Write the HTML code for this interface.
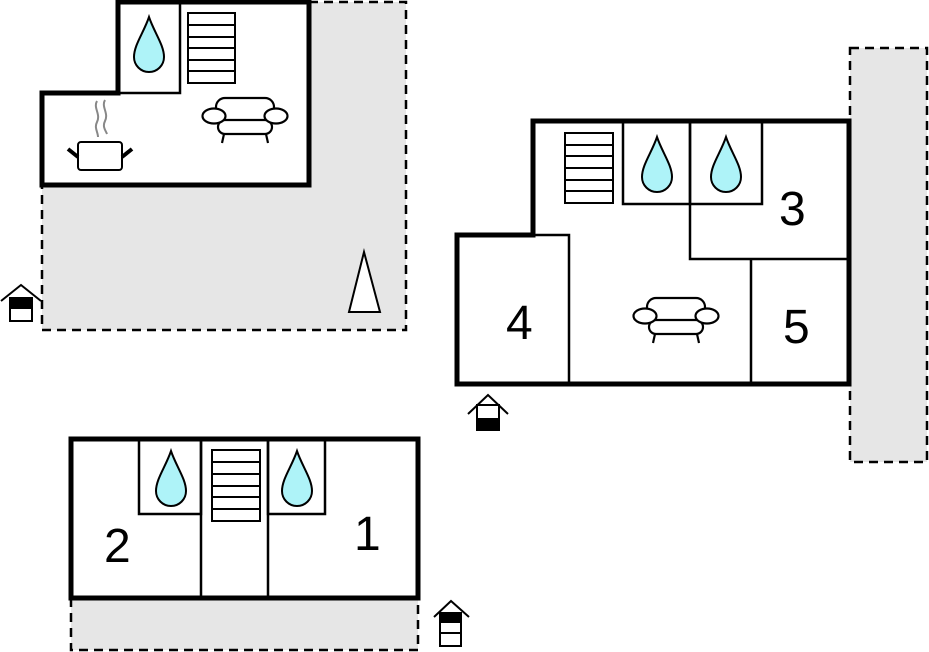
<!DOCTYPE html>
<html><head><meta charset="utf-8"><style>
html,body{margin:0;padding:0;background:#fff;}
svg{display:block;}
text{font-family:"Liberation Sans",sans-serif;font-size:48px;fill:#000;}
</style></head><body>
<svg width="929" height="652" viewBox="0 0 929 652" xmlns="http://www.w3.org/2000/svg">
<defs>
<g id="sofa" fill="#fff" stroke="#000" stroke-width="2.2">
<rect x="-29" y="-20" width="58" height="24" rx="9"/>
<rect x="-27" y="2" width="54" height="14" rx="7"/>
<ellipse cx="-31" cy="-2" rx="11.5" ry="7.5"/>
<ellipse cx="31" cy="-2" rx="11.5" ry="7.5"/>
<line x1="-21" y1="16" x2="-23" y2="25"/>
<line x1="21" y1="16" x2="23" y2="25"/>
</g>
<path id="drop" d="M0,0 C-5,15 -15,28 -15,40 A15,15 0 0 0 15,40 C15,28 5,15 0,0 Z" fill="#aef3f8" stroke="#000" stroke-width="2"/>
</defs>

<!-- top-left yard -->
<path d="M309,2 H406 V330 H42 V185 H309 Z" fill="#e6e6e6"/>
<g fill="none" stroke="#000" stroke-width="2.5" stroke-dasharray="9,6">
<path d="M309,2 H406 V330 H42 V185"/>
</g>
<path d="M118,2 H309 V185 H42 V93 H118 Z" fill="#fff" stroke="#000" stroke-width="5"/>
<rect x="118" y="2" width="62" height="91" fill="none" stroke="#000" stroke-width="2.5"/>
<use href="#drop" x="149" y="17"/>
<g fill="#fff" stroke="#000" stroke-width="2">
<rect x="188" y="13" width="47" height="70"/>
<path d="M188,25 H235 M188,37 H235 M188,48 H235 M188,60 H235 M188,71 H235"/>
</g>
<use href="#sofa" x="245" y="118"/>
<g fill="none" stroke="#888" stroke-width="2">
<path d="M97,101 C93,108 101,114 97,122 C94,128 98,132 98,137"/>
<path d="M105,100 C101,107 109,113 105,121 C102,127 106,131 107,134"/>
</g>
<rect x="78" y="142" width="44" height="28" rx="3" fill="#fff" stroke="#000" stroke-width="2"/>
<line x1="68" y1="149" x2="78" y2="157" stroke="#000" stroke-width="4"/>
<line x1="132" y1="149" x2="122" y2="157" stroke="#000" stroke-width="4"/>
<polygon points="349,312 364,252 380,312" fill="#fff" stroke="#000" stroke-width="2"/>
<g stroke="#000" stroke-width="2">
<polyline points="1,301 21,285 41,301" fill="none"/>
<rect x="10" y="298" width="22" height="23" fill="#fff"/>
<rect x="10" y="298" width="22" height="10" fill="#000"/>
</g>

<!-- right building -->
<rect x="850" y="48" width="77" height="414" fill="#e6e6e6"/>
<rect x="850" y="48" width="77" height="414" fill="none" stroke="#000" stroke-width="2.5" stroke-dasharray="9,6"/>
<path d="M533,121 H849 V384 H457 V235 H533 Z" fill="#fff" stroke="#000" stroke-width="5"/>
<g fill="none" stroke="#000" stroke-width="2.5">
<path d="M533,235 H569 V384"/>
<rect x="623" y="121" width="67" height="83"/>
<rect x="690" y="121" width="72" height="83"/>
<path d="M690,204 V259 H849"/>
<path d="M751,259 V384"/>
</g>
<g fill="#fff" stroke="#000" stroke-width="2">
<rect x="565" y="133" width="48" height="70"/>
<path d="M565,145 H613 M565,156 H613 M565,168 H613 M565,180 H613 M565,191 H613"/>
</g>
<use href="#drop" x="657" y="137"/>
<use href="#drop" x="726" y="137"/>
<use href="#sofa" x="676" y="318"/>
<text x="779" y="225">3</text>
<text x="506" y="339">4</text>
<text x="783" y="343">5</text>
<g stroke="#000" stroke-width="2">
<polyline points="468,414 488,395 508,414" fill="none"/>
<rect x="477" y="405" width="22" height="25" fill="#fff"/>
<rect x="477" y="419" width="22" height="11" fill="#000"/>
</g>

<!-- bottom building -->
<rect x="71" y="598" width="347" height="52" fill="#e6e6e6"/>
<path d="M71,598 V650 H418 V598" fill="none" stroke="#000" stroke-width="2.5" stroke-dasharray="9,6"/>
<rect x="71" y="439" width="347" height="159" fill="#fff" stroke="#000" stroke-width="5"/>
<g fill="none" stroke="#000" stroke-width="2.5">
<rect x="139" y="439" width="62" height="75"/>
<path d="M201,439 V598 M268,439 V598"/>
<rect x="268" y="439" width="57" height="75"/>
</g>
<g fill="#fff" stroke="#000" stroke-width="2">
<rect x="212" y="450" width="48" height="71"/>
<path d="M212,462 H260 M212,474 H260 M212,486 H260 M212,497 H260 M212,509 H260"/>
</g>
<use href="#drop" x="171" y="451"/>
<use href="#drop" x="297" y="451"/>
<text x="104" y="562">2</text>
<text x="354" y="550">1</text>
<g stroke="#000" stroke-width="2">
<polyline points="434,617 451,601 469,617" fill="none"/>
<rect x="440" y="613" width="21" height="33" fill="#fff"/>
<rect x="440" y="613" width="21" height="9" fill="#000"/>
<line x1="440" y1="633" x2="461" y2="633"/>
</g>
</svg>
</body></html>
